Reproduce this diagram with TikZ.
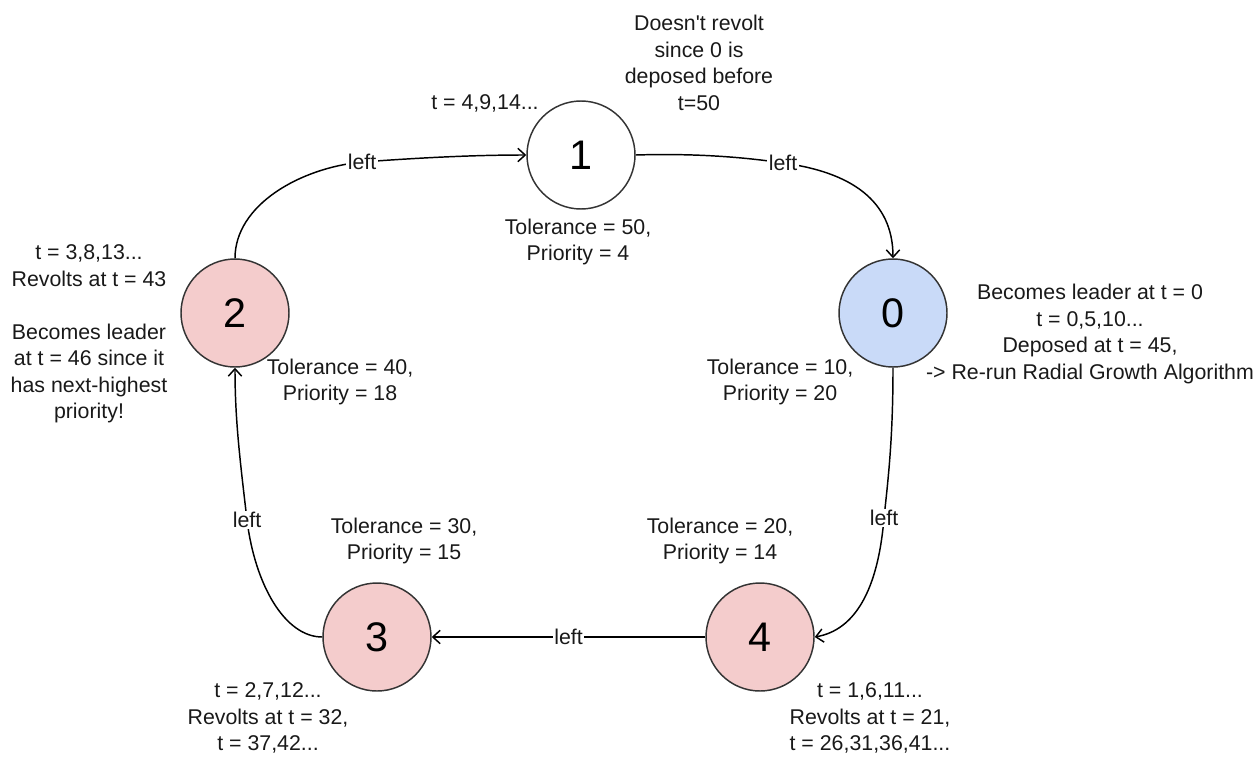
\documentclass[tikz,border=0pt]{standalone}
\usepackage{fontspec}
\setmainfont{Liberation Sans}
\usetikzlibrary{arrows.meta}
\definecolor{pinkfill}{HTML}{F4CCCC}
\definecolor{bluefill}{HTML}{C9DAF8}
\definecolor{stroke}{HTML}{333333}
\begin{document}
\begin{tikzpicture}[x=0.75pt,y=-0.75pt,
  state/.style={circle,draw=stroke,line width=1.1pt,minimum size=81pt,inner sep=0pt,font=\fontsize{31}{36}\selectfont},
  txt/.style={align=center,inner sep=0pt,font=\fontsize{16}{19.9}\selectfont,text=black!90},
  lbl/.style={fill=white,inner sep=1pt,font=\fontsize{16}{18}\selectfont,text=black!90},
  edge/.style={line width=1.1pt,-{Straight Barb[length=5.5pt,width=10pt,line width=1.1pt]}}]
\useasboundingbox (0,0) rectangle (1260,757);
% states
\node[state,fill=white] (n1) at (581,155) {1};
\node[state,fill=bluefill] (n0) at (893,313) {0};
\node[state,fill=pinkfill] (n2) at (235,313) {2};
\node[state,fill=pinkfill] (n3) at (377,637) {3};
\node[state,fill=pinkfill] (n4) at (760,637) {4};
% edges
\draw[edge] (n2.north) .. controls (235,205) and (300,168) .. (362,162) node[lbl] {left}
  .. controls (430,157) and (480,155) .. (n1.west);
\draw[edge] (n1.east) .. controls (700,153) and (750,158) .. (783,163) node[lbl] {left}
  .. controls (850,172) and (893,200) .. (n0.north);
\draw[edge] (n0.south) .. controls (893,440) and (888,480) .. (884,518) node[lbl] {left}
  .. controls (878,590) and (855,630) .. (n4.east);
\draw[edge] (n4.west) -- node[lbl] {left} (n3.east);
\draw[edge] (n3.west) .. controls (285,637) and (255,585) .. (247,520) node[lbl] {left}
  .. controls (240,460) and (235,420) .. (n2.south);
% annotations
\node[txt] (a1) at (485,103) {t = 4,9,14...};
\node[txt] (b1) at (699,63) {Doesn\textquotesingle t revolt\\since 0 is\\deposed before\\t=50};
\node[txt] (c1) at (578,242) {Tolerance = 50,\\Priority = 4};
\node[txt] (a2) at (89,334) {t = 3,8,13...\\Revolts at t = 43\\[19.9pt]Becomes leader\\at t = 46 since it\\has next-highest\\priority!};
\node[txt] (c2) at (340,382) {Tolerance = 40,\\Priority = 18};
\node[txt] (c0) at (780,382) {Tolerance = 10,\\Priority = 20};
\node[txt] (a0) at (1090,334) {Becomes leader at t = 0\\t = 0,5,10...\\Deposed at t = 45,\\-> Re-run Radial Growth Algorithm};
\node[txt] (c3) at (404,541) {Tolerance = 30,\\Priority = 15};
\node[txt] (c4) at (720,541) {Tolerance = 20,\\Priority = 14};
\node[txt] (a3) at (268,718) {t = 2,7,12...\\Revolts at t = 32,\\t = 37,42...};
\node[txt] (a4) at (870,718) {t = 1,6,11...\\Revolts at t = 21,\\t = 26,31,36,41...};
\end{tikzpicture}
\end{document}
